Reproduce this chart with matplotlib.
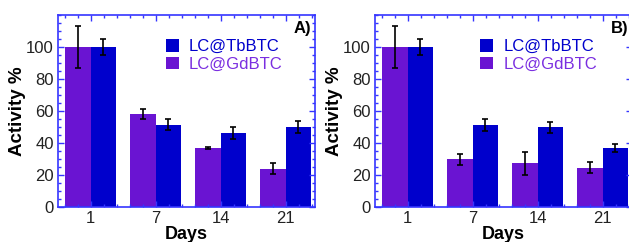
import numpy as np
import matplotlib.pyplot as plt
from matplotlib.ticker import MultipleLocator

plt.rcParams['font.family'] = ['Liberation Sans', 'DejaVu Sans']

days = ['1', '7', '14', '21']
gd_a = [100, 58, 37, 24]
gd_a_err = [13, 3, 0.5, 3.5]
tb_a = [100, 51.5, 46, 50]
tb_a_err = [5, 3.5, 3.7, 3.6]

gd_b = [100, 29.7, 27.2, 24.5]
gd_b_err = [13, 3.3, 7, 3.4]
tb_b = [100, 51.3, 49.8, 37]
tb_b_err = [5, 3.5, 3.6, 2.4]

purple = '#6a14d2'
blue = '#0000cc'
spine = '#3535ff'

fig = plt.figure(figsize=(6.29, 2.42), dpi=100)
w = 257 / 629
ax_a = fig.add_axes([58 / 629, 1 - 207 / 242, w, 192 / 242])
ax_b = fig.add_axes([375 / 629, 1 - 207 / 242, w, 192 / 242])

x = np.arange(len(days))
bw = 0.39

for ax, gd, gde, tb, tbe, tag, lx in [(ax_a, gd_a, gd_a_err, tb_a, tb_a_err, 'A)', 0.9),
                                       (ax_b, gd_b, gd_b_err, tb_b, tb_b_err, 'B)', 0.89)]:
    ax.bar(x - bw / 2, gd, bw, color=purple, label='LC@GdBTC')
    ax.bar(x + bw / 2, tb, bw, color=blue, label='LC@TbBTC')
    ax.errorbar(x - bw / 2, gd, yerr=gde, fmt='none', ecolor='black', elinewidth=1.2, capsize=2, capthick=1.2)
    ax.errorbar(x + bw / 2, tb, yerr=tbe, fmt='none', ecolor='black', elinewidth=1.2, capsize=2, capthick=1.2)
    ax.set_xlim(-0.5, 3.45)
    ax.set_ylim(0, 120)
    ax.set_xticks(x)
    ax.set_xticklabels(days)
    ax.set_yticks([0, 20, 40, 60, 80, 100])
    ax.yaxis.set_minor_locator(MultipleLocator(5))
    ax.xaxis.set_minor_locator(MultipleLocator(0.2))
    ax.tick_params(which='both', direction='in', top=True, right=True, colors=spine,
                   labelcolor='#222222', labelsize=12, pad=3)
    ax.tick_params(which='major', length=4, width=1)
    ax.tick_params(which='minor', length=2, width=1)
    for s in ax.spines.values():
        s.set_color(spine)
        s.set_linewidth(1.2)
    ax.set_xlabel('Days', fontsize=13, fontweight='bold', labelpad=0)
    ax.set_ylabel('Activity %', fontsize=13.5, fontweight='bold', labelpad=0)
    h, l = ax.get_legend_handles_labels()
    leg = ax.legend(h[::-1], l[::-1], loc='upper right', bbox_to_anchor=(lx, 0.91), frameon=False,
                    fontsize=12, handlelength=0.8, handleheight=0.8, handletextpad=0.6,
                    labelspacing=0.15, borderaxespad=0)
    for t, c in zip(leg.get_texts(), [blue, '#7a2ee0']):
        t.set_color(c)
    ax.text(0.985, 0.93, tag, transform=ax.transAxes, ha='right', va='center',
            fontsize=12, fontweight='bold')

fig.savefig('out.png', dpi=100)
